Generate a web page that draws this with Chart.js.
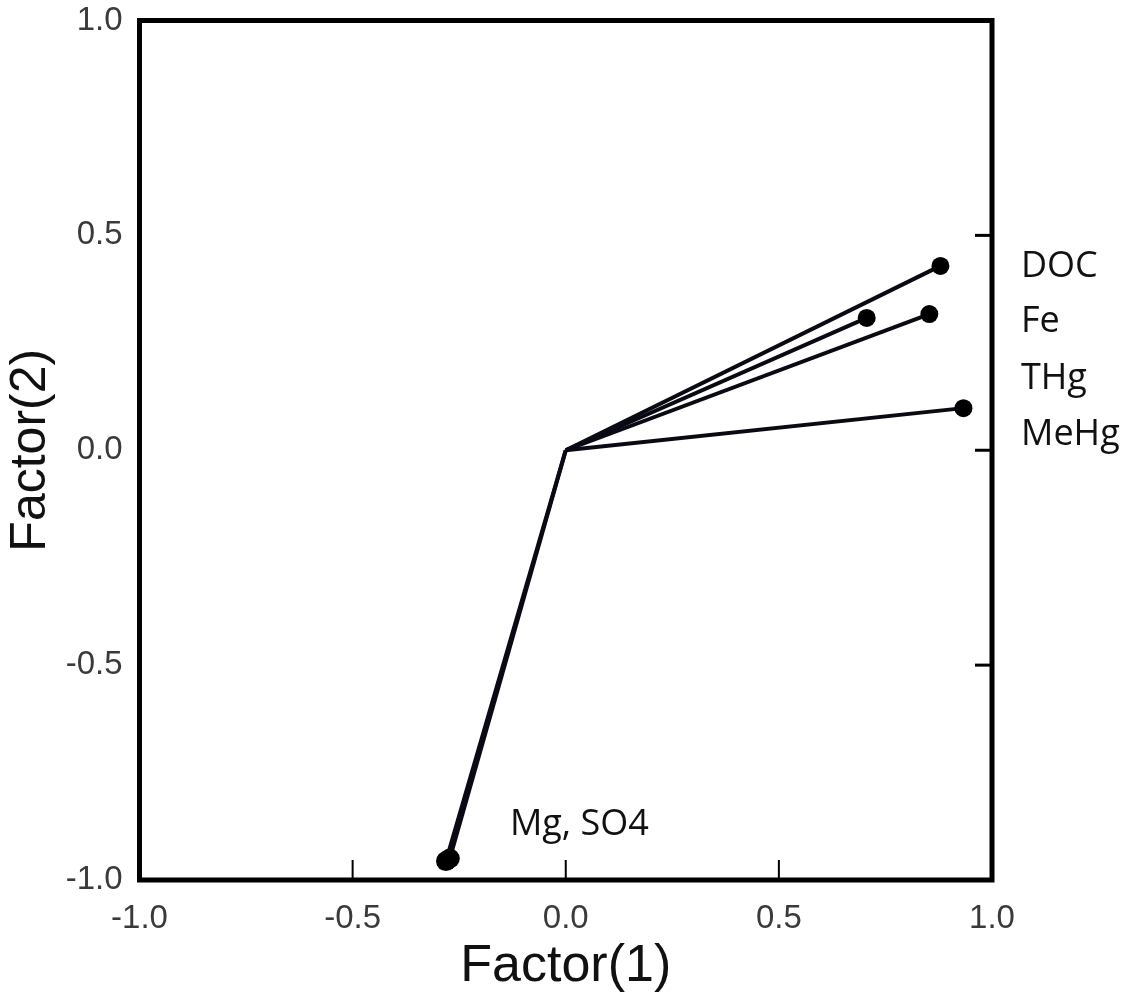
<!DOCTYPE html>
<html>
<head>
<meta charset="utf-8">
<script src="https://cdn.jsdelivr.net/npm/chart.js@4.4.1/dist/chart.umd.min.js"></script>
<style>
  body { margin: 0; background: #fff; }
  #wrap { width: 1127px; height: 999px; }
</style>
</head>
<body>
<div id="wrap"><canvas id="loadings" width="1127" height="999"></canvas></div>
<script>
// Factor loadings
const variables = ['DOC', 'Fe', 'THg', 'MeHg', 'Mg', 'SO4'];
const factor1 = [0.879, 0.853, 0.706, 0.933, -0.281, -0.272];
const factor2 = [0.429, 0.317, 0.308, 0.098, -0.956, -0.950];

// axis ticks
const tickValues = [-1.0, -0.5, 0.0, 0.5, 1.0];
const tickLabels = ['-1.0', '-0.5', '0.0', '0.5', '1.0'];
const innerTicks = [-0.5, 0.0, 0.5];

// text labels next to the vectors
const sideLabels = ['DOC', 'Fe', 'THg', 'MeHg'];
const sideLabelY = [0.426, 0.298, 0.167, 0.035];
const bottomLabel = 'Mg, SO4';
const bottomLabelX = -0.131;
const bottomLabelY = -0.872;

const datasets = variables.map((name, i) => ({
    label: name,
    data: [{ x: 0, y: 0 }, { x: factor1[i], y: factor2[i] }],
    showLine: true,
    borderColor: '#0a0a14',
    borderWidth: 4,
    pointRadius: [0, i >= 4 ? 10 : 9],
    pointBackgroundColor: '#000',
    pointBorderWidth: 0,
    clip: false
}));

// frame, inward ticks and the variable labels
const framePlugin = {
    id: 'frame',
    afterDraw(chart) {
        const ctx = chart.ctx;
        const a = chart.chartArea;
        const xs = chart.scales.x;
        const ys = chart.scales.y;
        ctx.save();
        ctx.strokeStyle = '#000';
        ctx.lineWidth = 2;
        innerTicks.forEach(v => {
            const px = xs.getPixelForValue(v);
            ctx.beginPath();
            ctx.moveTo(px, a.bottom);
            ctx.lineTo(px, a.bottom - 20);
            ctx.stroke();
        });
        ctx.lineWidth = 3;
        innerTicks.forEach(v => {
            const py = ys.getPixelForValue(v);
            ctx.beginPath();
            ctx.moveTo(a.right, py);
            ctx.lineTo(a.right - 17, py);
            ctx.stroke();
        });
        ctx.lineWidth = 5;
        ctx.strokeRect(a.left, a.top, a.right - a.left, a.bottom - a.top);

        ctx.fillStyle = '#111';
        ctx.font = '36px "Open Sans"';
        ctx.textAlign = 'left';
        ctx.textBaseline = 'middle';
        sideLabels.forEach((t, i) => {
            ctx.fillText(t, a.right + 29, ys.getPixelForValue(sideLabelY[i]));
        });
        ctx.fillText(bottomLabel, xs.getPixelForValue(bottomLabelX), ys.getPixelForValue(bottomLabelY));
        ctx.restore();
    }
};

const tickFont = { family: '"Liberation Sans", Arial', size: 33 };
const titleFont = { family: '"Liberation Sans", Arial', size: 52 };

new Chart(document.getElementById('loadings').getContext('2d'), {
    type: 'scatter',
    data: { datasets },
    options: {
        responsive: false,
        animation: false,
        layout: { padding: { top: 20.5, right: 135, left: 0, bottom: 0 } },
        plugins: {
            legend: { display: false },
            tooltip: { enabled: false }
        },
        scales: {
            x: {
                type: 'linear',
                min: -1, max: 1,
                afterFit: s => { s.height = 119; s.paddingLeft = 0; s.paddingRight = 0; },
                afterBuildTicks: s => { s.ticks = tickValues.map(v => ({ value: v })); },
                grid: { display: false },
                border: { display: false },
                ticks: {
                    color: '#3a3a3a', font: tickFont, padding: 11, maxRotation: 0,
                    callback: v => tickLabels[tickValues.indexOf(v)]
                },
                title: {
                    display: true, text: 'Factor(1)', color: '#111', font: titleFont,
                    padding: { top: 0, bottom: 1 }
                }
            },
            y: {
                type: 'linear',
                min: -1, max: 1,
                afterFit: s => { s.width = 139.5; s.paddingTop = 0; s.paddingBottom = 0; },
                afterBuildTicks: s => { s.ticks = tickValues.map(v => ({ value: v })); },
                grid: { display: false },
                border: { display: false },
                ticks: {
                    color: '#3a3a3a', font: tickFont, padding: 9,
                    callback: v => tickLabels[tickValues.indexOf(v)]
                },
                title: {
                    display: true, text: 'Factor(2)', color: '#111', font: { family: '"Liberation Sans", Arial', size: 50 },
                    padding: { top: 1, bottom: 0 }
                }
            }
        }
    },
    plugins: [framePlugin]
});
</script>
</body>
</html>
